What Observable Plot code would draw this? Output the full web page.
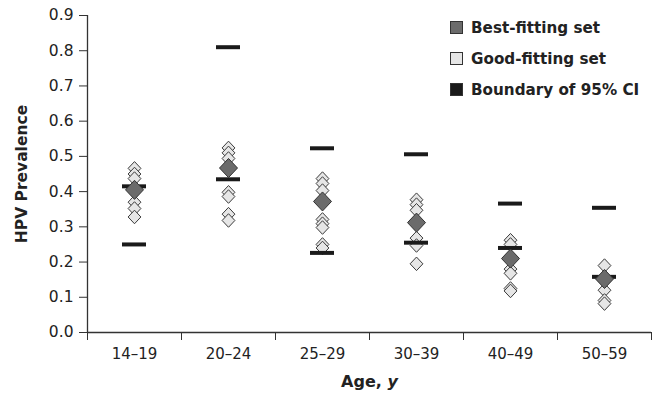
<!DOCTYPE html>
<html><head><meta charset="utf-8">
<script src="https://cdn.jsdelivr.net/npm/d3@7"></script>
<script src="https://cdn.jsdelivr.net/npm/@observablehq/plot@0.6"></script>
<style>
body{margin:0;background:#fff;font-family:"DejaVu Sans",sans-serif;}
#wrap{position:relative;width:665px;height:395px;}
#legend{position:absolute;left:450px;top:12px;font-weight:bold;font-size:15.2px;color:#222;}
#legend .row{display:flex;align-items:center;height:31px;}
#legend .sw{width:11px;height:11px;border:1px solid #333;margin-right:8px;box-sizing:content-box;}
</style></head><body><div id="wrap"><div id="legend"></div></div>
<script>
const ages = ["14–19","20–24","25–29","30–39","40–49","50–59"];
const bestFit = [0.405,0.467,0.372,0.312,0.210,0.152];
const ciLower = [0.250,0.435,0.226,0.255,0.240,0.158];
const ciUpper = [0.415,0.810,0.523,0.506,0.366,0.354];
const goodFit = [
  [0.466,0.450,0.437,0.370,0.352,0.328],
  [0.524,0.510,0.494,0.398,0.386,0.336,0.318],
  [0.437,0.423,0.403,0.321,0.309,0.298,0.250,0.240],
  [0.377,0.363,0.347,0.268,0.247,0.195],
  [0.262,0.250,0.180,0.168,0.125,0.118],
  [0.190,0.120,0.091,0.082]
];
const legendItems = [
  {label:"Best-fitting set", color:"#6b6b6b"},
  {label:"Good-fitting set", color:"#e6e6e6"},
  {label:"Boundary of 95% CI", color:"#1a1a1a"}
];
const yTicks = [0,0.1,0.2,0.3,0.4,0.5,0.6,0.7,0.8,0.9];

const idx = a => ages.indexOf(a) + 0.5;
const goodRows = goodFit.flatMap((vals,i)=>vals.map(v=>({age:ages[i], v})));
const bestRows = ages.map((a,i)=>({age:a, v:bestFit[i]}));
const ciRows = ages.flatMap((a,i)=>[{age:a, v:ciLower[i]},{age:a, v:ciUpper[i]}]);

const diamond = {draw(ctx, size){const r=Math.sqrt(size/Math.PI); const h=r*1.06;
  ctx.moveTo(0,-h); ctx.lineTo(r,0); ctx.lineTo(0,h); ctx.lineTo(-r,0); ctx.closePath();}};

const chart = Plot.plot({
  width:665, height:395,
  marginLeft:87, marginRight:14, marginTop:15, marginBottom:63,
  style:{fontFamily:"DejaVu Sans", fontSize:"15px", color:"#222", background:"#fff"},
  x:{domain:[0,6], axis:null},
  y:{domain:[0,0.9], axis:null},
  marks:[
    Plot.axisY({ticks:yTicks, tickFormat:d=>d.toFixed(1), tickSize:8, tickPadding:6, label:null, stroke:"#333", fontSize:15.5}),
    Plot.axisX({ticks:d3.range(7), tickFormat:()=>"", tickSize:8, label:null, stroke:"#333"}),
    Plot.axisX({ticks:ages.map(a=>idx(a)), tickFormat:d=>ages[Math.floor(d)], tickSize:0, tickPadding:16, label:null, fontSize:15}),
    Plot.ruleY([0], {stroke:"#333", strokeWidth:1.3}),
    Plot.ruleX([0], {stroke:"#333", strokeWidth:1.3}),
    Plot.text(["HPV Prevalence"], {frameAnchor:"left", textAnchor:"middle", rotate:-90, dx:-65, fontWeight:"bold", fontSize:15.5, fill:"#222"}),
    Plot.text(["Age, y"], {frameAnchor:"bottom", dy:54, fontWeight:"bold", fontSize:16, fill:"#222", className:"xtitle"}),
    Plot.dot(goodRows, {x:d=>idx(d.age), y:"v", symbol:diamond, r:6.4, fill:"#e6e6e6", stroke:"#3a3a3a", strokeWidth:1}),
    Plot.ruleY(ciRows, {y:"v", x1:d=>idx(d.age), x2:d=>idx(d.age), insetLeft:-12, insetRight:-12, stroke:"#1a1a1a", strokeWidth:4}),
    Plot.dot(bestRows, {x:d=>idx(d.age), y:"v", symbol:diamond, r:9, fill:"#6b6b6b", stroke:"#333", strokeWidth:1})
  ]
});
document.getElementById("wrap").prepend(chart);
const t = d3.select(chart).select("g.xtitle text");
t.text("Age, ");
t.append("tspan").attr("font-style","italic").text("y");

const leg = d3.select("#legend");
legendItems.forEach(it=>{
  const row = leg.append("div").attr("class","row");
  row.append("div").attr("class","sw").style("background", it.color);
  row.append("span").text(it.label);
});
</script></body></html>
